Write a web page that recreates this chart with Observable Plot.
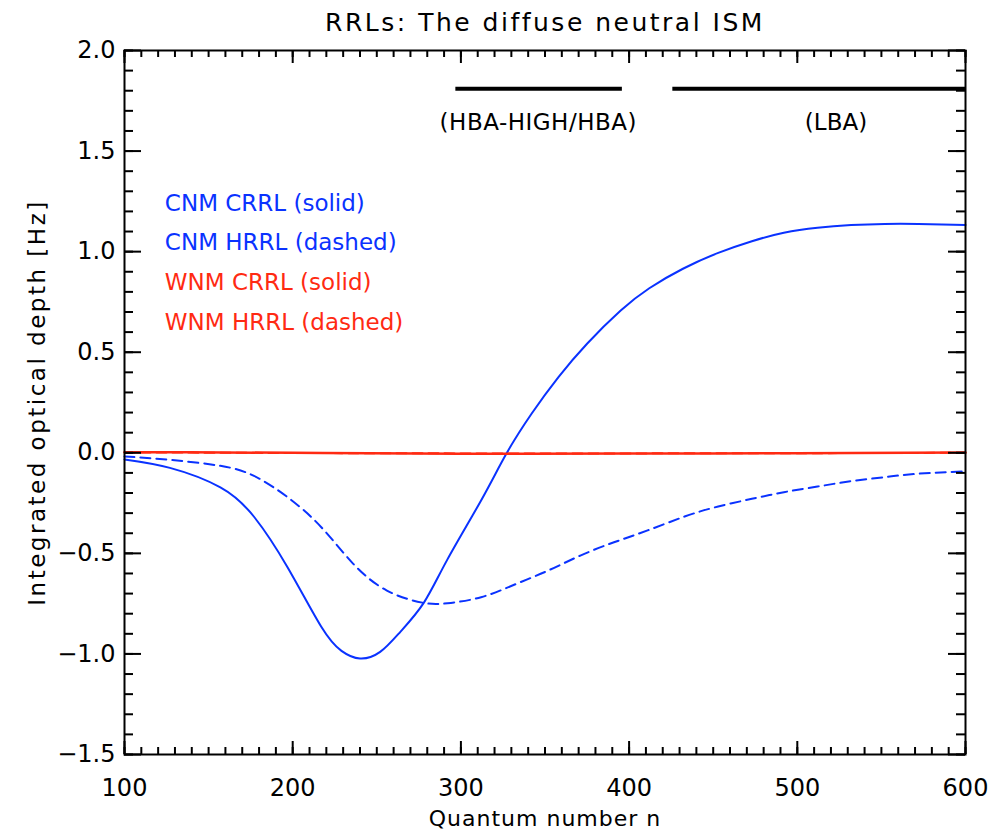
<!DOCTYPE html>
<html>
<head>
<meta charset="utf-8">
<script src="https://cdn.jsdelivr.net/npm/d3@7"></script>
<script src="https://cdn.jsdelivr.net/npm/@observablehq/plot@0.6"></script>
<style>
  body { margin: 0; background: #fff; }
  #chart svg { display: block; }
</style>
</head>
<body>
<div id="chart"></div>
<script>
// ---- Data ----
const title = "RRLs: The diffuse neutral ISM";
const xLabel = "Quantum number n";
const yLabel = "Integrated optical depth [Hz]";

const xMajorTicks = [100, 200, 300, 400, 500, 600];
const yMajorTicks = [-1.5, -1.0, -0.5, 0.0, 0.5, 1.0, 1.5, 2.0];

// CNM CRRL (solid, blue)
const cnmCrrlN   = [100, 127, 157, 177, 197, 217, 229, 240, 252, 264, 278, 292, 312, 327, 342, 358, 375, 395, 412, 432, 453, 473, 492, 512, 532, 552, 572, 600];
const cnmCrrlTau = [-0.033, -0.075, -0.172, -0.318, -0.57, -0.865, -0.985, -1.023, -0.99, -0.89, -0.745, -0.53, -0.237, -0.005, 0.194, 0.376, 0.542, 0.707, 0.818, 0.915, 0.994, 1.052, 1.094, 1.119, 1.132, 1.138, 1.138, 1.133];

// CNM HRRL (dashed, blue)
const cnmHrrlN   = [100, 127, 157, 177, 197, 217, 236, 256, 277, 292, 312, 332, 352, 371, 391, 411, 433, 453, 473, 492, 512, 532, 552, 572, 600];
const cnmHrrlTau = [-0.018, -0.035, -0.065, -0.115, -0.221, -0.370, -0.552, -0.685, -0.745, -0.748, -0.718, -0.655, -0.585, -0.511, -0.445, -0.386, -0.317, -0.267, -0.229, -0.196, -0.168, -0.141, -0.121, -0.104, -0.092];

// WNM CRRL (solid, red)
const wnmCrrlN   = [100, 200, 300, 400, 500, 600];
const wnmCrrlTau = [0.003, 0.0, -0.005, -0.004, -0.002, 0.002];

// WNM HRRL (dashed, red)
const wnmHrrlN   = [100, 200, 300, 400, 500, 600];
const wnmHrrlTau = [0.002, -0.001, -0.003, -0.003, -0.002, 0.0];

// Legend
const legendTexts  = ["CNM CRRL (solid)", "CNM HRRL (dashed)", "WNM CRRL (solid)", "WNM HRRL (dashed)"];
const legendY      = [1.24, 1.045, 0.847, 0.648];
const legendSeries = ["CNM", "CNM", "WNM", "WNM"];
const legendX      = 124;

// Band bars
const bandNames  = ["(HBA-HIGH/HBA)", "(LBA)"];
const bandStart  = [297, 426];
const bandEnd    = [396, 600];
const bandLabelX = [346, 523];
const bandBarY   = 1.81;
const bandLabelY = 1.64;

// ---- Build tables ----
const toRows = (ns, ts) => ns.map((n, i) => ({n, tau: ts[i]}));
const cnmCrrl = toRows(cnmCrrlN, cnmCrrlTau);
const cnmHrrl = toRows(cnmHrrlN, cnmHrrlTau);
const wnmCrrl = toRows(wnmCrrlN, wnmCrrlTau);
const wnmHrrl = toRows(wnmHrrlN, wnmHrrlTau);
const legend = legendTexts.map((t, i) => ({text: t, y: legendY[i], s: legendSeries[i], x: legendX}));
const bands = bandNames.map((name, i) => ({name, x1: bandStart[i], x2: bandEnd[i], xl: bandLabelX[i]}));

const xMinorTicks = d3.range(100, 601, 10);
const yMinorTicks = d3.range(-15, 21).map(i => i / 10);

// ---- Layout & style ----
const W = 1001, H = 831;
const mL = 124, mR = 36, mT = 50, mB = 77;
const fw = W - mL - mR, fh = H - mT - mB;
const BLUE = "#0a32ff", RED = "#ff2a12";
const colorOf = s => s === "CNM" ? BLUE : RED;
const FONT = "DejaVu Sans";
const fmtY = d3.format(".1f");

const chart = Plot.plot({
  width: W, height: H,
  marginLeft: mL, marginRight: mR, marginTop: mT, marginBottom: mB,
  x: {domain: [100, 600]},
  y: {domain: [-1.5, 2.0]},
  style: {fontFamily: FONT, background: "white", color: "black", overflow: "visible"},
  marks: [
    // curves
    Plot.line(cnmHrrl, {x: "n", y: "tau", stroke: BLUE, strokeWidth: 2, strokeDasharray: "10,6", curve: "natural"}),
    Plot.line(cnmCrrl, {x: "n", y: "tau", stroke: BLUE, strokeWidth: 2, curve: "natural"}),
    Plot.line(wnmHrrl, {x: "n", y: "tau", stroke: RED, strokeWidth: 2, strokeDasharray: "10,6", curve: "natural"}),
    Plot.line(wnmCrrl, {x: "n", y: "tau", stroke: RED, strokeWidth: 2.5, curve: "natural"}),

    // band bars + labels
    Plot.ruleY(bands, {y: () => bandBarY, x1: "x1", x2: "x2", stroke: "black", strokeWidth: 4}),
    Plot.text(bands, {x: "xl", y: () => bandLabelY, text: "name", fontSize: 23, fill: "black"}),

    // legend
    Plot.text(legend, {x: "x", y: "y", text: "text", fill: d => colorOf(d.s), textAnchor: "start", fontSize: 23}),

    // frame and inward ticks on all four sides
    Plot.frame({stroke: "black", strokeWidth: 2}),
    Plot.tickX(xMinorTicks, {x: d => d, insetTop: fh - 7, stroke: "black", strokeWidth: 2}),
    Plot.tickX(xMajorTicks, {x: d => d, insetTop: fh - 13, stroke: "black", strokeWidth: 2}),
    Plot.tickX(xMinorTicks, {x: d => d, insetBottom: fh - 7, stroke: "black", strokeWidth: 2}),
    Plot.tickX(xMajorTicks, {x: d => d, insetBottom: fh - 13, stroke: "black", strokeWidth: 2}),
    Plot.tickY(yMinorTicks, {y: d => d, insetRight: fw - 9, stroke: "black", strokeWidth: 2}),
    Plot.tickY(yMajorTicks, {y: d => d, insetRight: fw - 17, stroke: "black", strokeWidth: 2}),
    Plot.tickY(yMinorTicks, {y: d => d, insetLeft: fw - 9, stroke: "black", strokeWidth: 2}),
    Plot.tickY(yMajorTicks, {y: d => d, insetLeft: fw - 17, stroke: "black", strokeWidth: 2}),

    // tick labels
    Plot.axisX({ticks: xMajorTicks, tickSize: 0, tickPadding: 24, fontSize: 24, tickFormat: d => String(d), label: null}),
    Plot.axisY({ticks: yMajorTicks, tickSize: 0, tickPadding: 9, fontSize: 24, tickFormat: fmtY, label: null}),

    // titles
    Plot.text([title], {text: d => d, frameAnchor: "top", lineAnchor: "middle", dy: -28, fontSize: 25, fill: "black"}),
    Plot.text([xLabel], {text: d => d, frameAnchor: "bottom", lineAnchor: "middle", dy: 64, fontSize: 22, fill: "black"}),
    Plot.text([yLabel], {text: d => d, frameAnchor: "left", textAnchor: "middle", lineAnchor: "middle", rotate: -90, dx: -87, fontSize: 23, fill: "black"})
  ]
});

// wider Hershey-like letter spacing for the titles
const spacing = new Map([[title, "2.5px"], [yLabel, "2.5px"], [xLabel, "1px"], [bandNames[0], "0.5px"]]);
d3.select(chart).selectAll("text").each(function () {
  const s = spacing.get(this.textContent);
  if (s) this.setAttribute("letter-spacing", s);
});

document.getElementById("chart").appendChild(chart);
</script>
</body>
</html>
